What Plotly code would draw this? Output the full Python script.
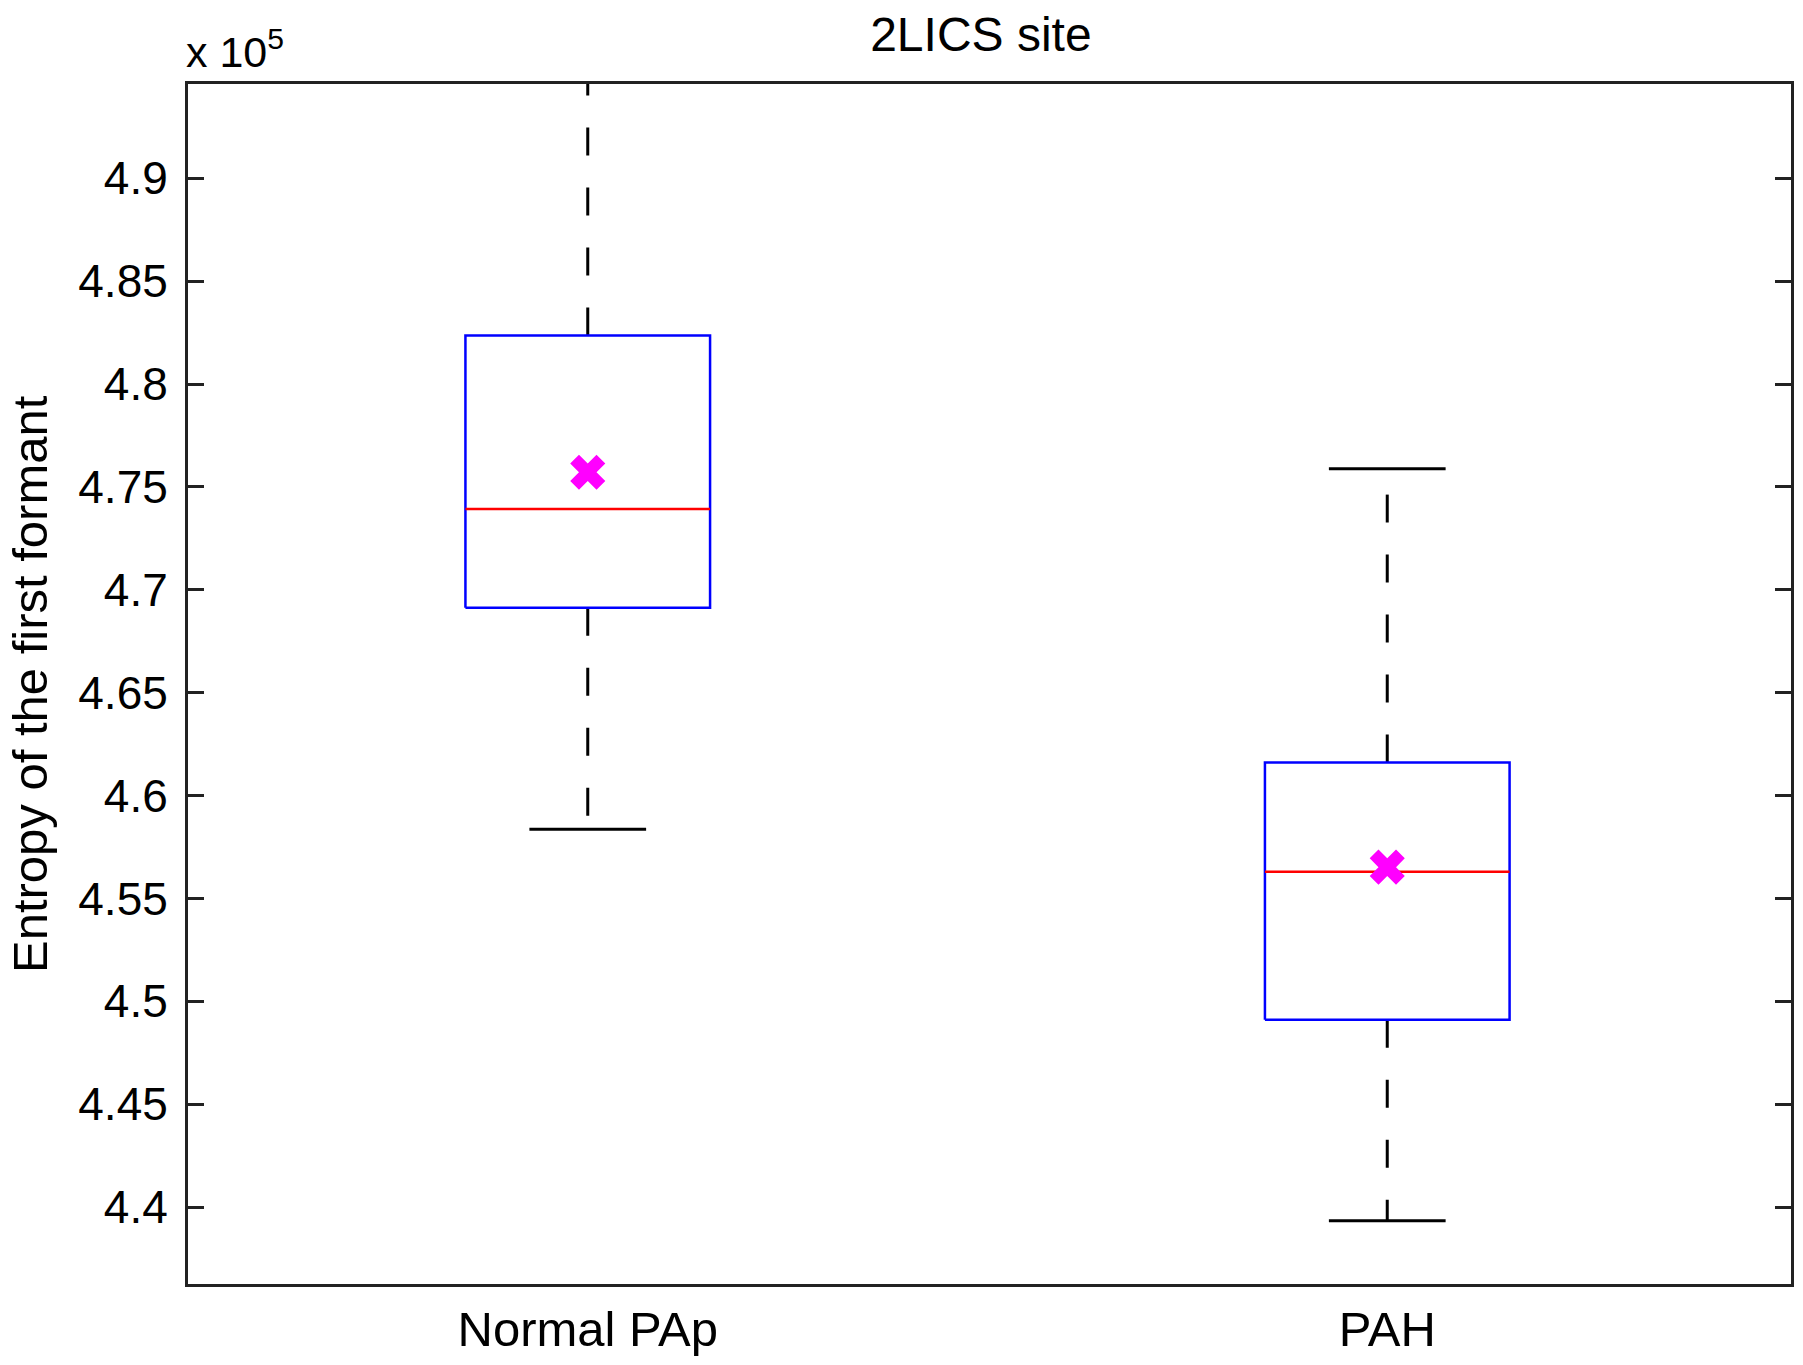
import plotly.graph_objects as go

# box statistics, in units of 10^5
groups = ["Normal PAp", "PAH"]
positions = [1, 2]
lower_whisker = [4.5836, 4.3933]
q1 = [4.6913, 4.4910]
median = [4.7393, 4.5629]
q3 = [4.8236, 4.6160]
upper_whisker = [4.9600, 4.7588]
mean = [4.7571, 4.5652]

y_ticks = [4.4, 4.45, 4.5, 4.55, 4.6, 4.65, 4.7, 4.75, 4.8, 4.85, 4.9]
y_labels = ["4.4", "4.45", "4.5", "4.55", "4.6", "4.65", "4.7", "4.75", "4.8", "4.85", "4.9"]

half_box = 0.153
half_cap = 0.073
font = "Liberation Sans, Arial, sans-serif"
dash = "28px,32px"

fig = go.Figure()

for i, p in enumerate(positions):
    # whiskers
    fig.add_trace(go.Scatter(x=[p, p], y=[q3[i], upper_whisker[i]], mode="lines",
                             line=dict(color="black", width=3, dash=dash)))
    fig.add_trace(go.Scatter(x=[p, p], y=[q1[i], lower_whisker[i]], mode="lines",
                             line=dict(color="black", width=3, dash=dash)))
    # caps
    fig.add_trace(go.Scatter(x=[p - half_cap, p + half_cap], y=[upper_whisker[i]] * 2, mode="lines",
                             line=dict(color="black", width=3)))
    fig.add_trace(go.Scatter(x=[p - half_cap, p + half_cap], y=[lower_whisker[i]] * 2, mode="lines",
                             line=dict(color="black", width=3)))
    # box
    fig.add_trace(go.Scatter(x=[p - half_box, p + half_box, p + half_box, p - half_box, p - half_box],
                             y=[q1[i], q1[i], q3[i], q3[i], q1[i]], mode="lines",
                             line=dict(color="#0000ff", width=2.5), fill="toself",
                             fillcolor="white"))
    # median
    fig.add_trace(go.Scatter(x=[p - half_box, p + half_box], y=[median[i]] * 2, mode="lines",
                             line=dict(color="#ff0000", width=2.5)))

# means
fig.add_trace(go.Scatter(x=positions, y=mean, mode="markers",
                         marker=dict(symbol="x", size=31, color="#ff00ff",
                                     line=dict(width=0))))

fig.update_layout(
    width=1795, height=1357,
    margin=dict(l=180, r=9, t=76, b=79),
    plot_bgcolor="white", paper_bgcolor="white",
    showlegend=False,
    font=dict(family=font, size=46, color="black"),
    title=dict(text="2LICS site", x=0.542, xanchor="center", y=0.981, yanchor="middle",
               font=dict(family=font, size=48, color="black")),
)

fig.update_xaxes(range=[0.5, 2.505], tickvals=positions, ticktext=groups,
                 showgrid=False, zeroline=False, showline=True, linecolor="#222",
                 linewidth=3, mirror=True, ticks="",
                 tickfont=dict(family=font, size=49))

fig.update_yaxes(range=[4.3626, 4.9458], tickvals=y_ticks, ticktext=y_labels,
                 showgrid=False, zeroline=False, showline=True, linecolor="#222",
                 linewidth=3, mirror="ticks", ticks="inside", ticklen=16, tickwidth=3,
                 tickcolor="#222", tickfont=dict(family=font, size=46),
                 ticklabelstandoff=8)

fig.add_annotation(text="Entropy of the first formant", textangle=-90,
                   xref="paper", yref="paper", x=0, y=0.5, xanchor="center", yanchor="middle",
                   xshift=-158, showarrow=False,
                   font=dict(family=font, size=49, color="black"))

fig.add_annotation(text="x 10<sup>5</sup>", xref="paper", yref="paper", x=0, y=1.0,
                   xanchor="left", yanchor="bottom", yshift=6, xshift=-4, showarrow=False,
                   font=dict(family=font, size=43, color="black"))

fig.write_html("out.html")
